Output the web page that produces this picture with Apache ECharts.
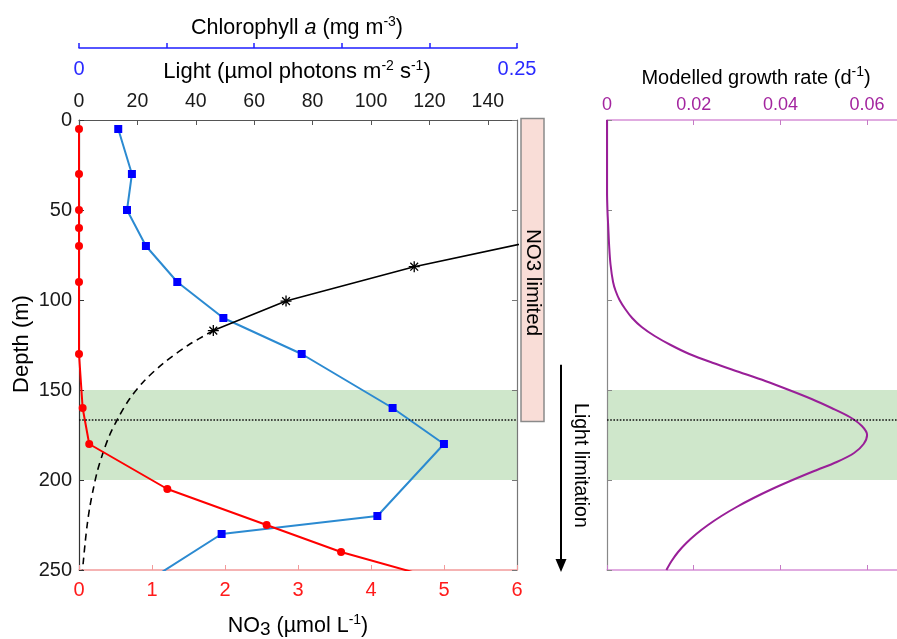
<!DOCTYPE html>
<html>
<head>
<meta charset="utf-8">
<script src="https://cdn.jsdelivr.net/npm/echarts@6/dist/echarts.min.js"></script>
<style>html,body{margin:0;padding:0;background:#fff;}#main{width:897px;height:639px;}</style>
</head>
<body>
<div id="main"></div>
<script>
// ---- Data ----
// NO3 (µmol L-1) profile
const no3Depth = [5, 30, 50, 60, 70, 90, 130, 160, 180, 205, 225, 240, 260];
const no3Value = [0, 0, 0, 0, 0, 0, 0, 0.05, 0.14, 1.21, 2.57, 3.59, 5.35];
// Chlorophyll a (mg m-3) profile
const chlDepth = [5, 30, 50, 70, 90, 110, 130, 160, 180, 220, 230, 260];
const chlValue = [0.0224, 0.0302, 0.0274, 0.0382, 0.0561, 0.0824, 0.1271, 0.179, 0.2083, 0.1703, 0.0814, 0.033];
// Light (µmol photons m-2 s-1), measured part
const lightDepth = [60, 81.5, 100.6, 117];
const lightValue = [177, 114.8, 70.9, 46.0];
const lightStars = [false, true, true, true];
// Light, extrapolated (dashed)
const lightExtDepth = [117, 125, 135, 145, 155, 165, 175, 185, 195, 205, 215, 225, 235, 245, 250];
const lightExtValue = [46, 37.5, 29, 22.3, 17.3, 13.6, 10.5, 8.2, 6.3, 4.9, 3.7, 2.8, 2.1, 1.5, 1.2];
// Modelled growth rate (d-1)
const growthDepth = [0, 40, 50, 60, 70, 80, 90, 95, 100, 105, 110, 115, 120, 125, 130, 135, 140, 145, 150, 155, 160, 165, 170, 175, 180, 185, 190, 195, 200, 205, 210, 215, 220, 225, 230, 235, 240, 245, 250];
const growthValue = [0, 0, 0.0001, 0.0003, 0.0005, 0.0008, 0.0014, 0.0020, 0.0029, 0.0042, 0.0058, 0.0080, 0.0110, 0.0147, 0.0190, 0.0245, 0.0305, 0.0365, 0.0420, 0.0472, 0.0518, 0.0560, 0.0588, 0.0600, 0.0592, 0.0570, 0.0530, 0.0478, 0.0428, 0.0381, 0.0338, 0.0299, 0.0264, 0.0233, 0.0206, 0.0183, 0.0164, 0.0149, 0.0137];
// Annotations
const bandDepth = [150, 200];
const dottedDepth = 166.3;
const no3LimitedDepth = [0, 167.5];
const no3LabelDepth = 90.3;
const lightLimitDepth = [136, 250];
const depthTicks = {min: 0, max: 250, interval: 50};

// ---- Chart ----
const FF = "'Liberation Sans', Arial, Helvetica, sans-serif";
const chart = echarts.init(document.getElementById('main'));

const zip = (xs, ys) => xs.map((x, i) => [x, ys[i]]);
const STAR = 'path://M-0.6,-5L0.6,-5L0.6,5L-0.6,5Z M-5,-0.6L5,-0.6L5,0.6L-5,0.6Z M3.12,3.96L-3.96,-3.12L-3.12,-3.96L3.96,3.12Z M3.96,-3.12L-3.12,3.96L-3.96,3.12L3.12,-3.96Z';

function yAx(grid, pos, color, labels) {
  return {
    gridIndex: grid, type: 'value', inverse: true, position: pos,
    min: depthTicks.min, max: depthTicks.max, interval: depthTicks.interval, z: 1.5,
    axisLine: {onZero: false, lineStyle: {color: color, width: 1.2}},
    axisTick: {inside: true, length: 5, lineStyle: {color: color}},
    axisLabel: {show: labels, color: '#1a1a1a', fontSize: 20, margin: 7, fontFamily: FF},
    splitLine: {show: false}
  };
}

const bandArea = {
  silent: true,
  itemStyle: {color: '#cfe7cb'},
  data: [[{yAxis: bandDepth[0]}, {yAxis: bandDepth[1]}]]
};
const dotted = {
  silent: true, symbol: ['none', 'none'], label: {show: false},
  lineStyle: {type: 'dotted', color: '#111', width: 1.6},
  emphasis: {disabled: true},
  data: [{yAxis: dottedDepth}]
};

const option = {
  animation: false,
  backgroundColor: '#fff',
  grid: [
    {left: 79, top: 120, width: 438, height: 450},
    {left: 607, top: 120, width: 290, height: 450}
  ],
  xAxis: [
    { // NO3
      gridIndex: 0, type: 'value', position: 'bottom', min: 0, max: 6, interval: 1, z: 1.5,
      axisLine: {onZero: false, lineStyle: {color: '#f29a9a', width: 1.5}},
      axisTick: {inside: true, length: 5, lineStyle: {color: '#f29a9a'}},
      axisLabel: {color: '#ff1a1a', fontSize: 20, margin: 10, fontFamily: FF},
      splitLine: {show: false}
    },
    { // Light
      gridIndex: 0, type: 'value', position: 'top', min: 0, max: 150, interval: 20, z: 1.5,
      axisLine: {onZero: false, lineStyle: {color: '#555', width: 1.2}},
      axisTick: {inside: true, length: 5, lineStyle: {color: '#555'}},
      axisLabel: {color: '#1a1a1a', fontSize: 19.5, margin: 8, fontFamily: FF, showMaxLabel: false,
        formatter: v => (v >= 149.9 ? '' : String(v))},
      splitLine: {show: false}
    },
    { // Chlorophyll
      gridIndex: 0, type: 'value', position: 'top', offset: 72, min: 0, max: 0.25, interval: 0.05, z: 1.5,
      axisLine: {onZero: false, lineStyle: {color: '#1f1fff', width: 1.5}},
      axisTick: {inside: false, length: 5, lineStyle: {color: '#1f1fff', width: 1.5}},
      axisLabel: {inside: true, color: '#2a2aff', fontSize: 20, margin: 11, fontFamily: FF,
        formatter: v => (Math.abs(v) < 1e-9 ? '0' : (Math.abs(v - 0.25) < 1e-6 ? '0.25' : ''))},
      splitLine: {show: false}
    },
    { // Growth top
      gridIndex: 1, type: 'value', position: 'top', min: 0, max: 0.0669, interval: 0.02, z: 1.5,
      axisLine: {onZero: false, lineStyle: {color: '#d690d6', width: 1.5}},
      axisTick: {inside: true, length: 5, lineStyle: {color: '#c57ac5'}},
      axisLabel: {color: '#a3249f', fontSize: 18, margin: 6, fontFamily: FF, showMaxLabel: false,
        formatter: v => (Math.abs(v) < 1e-9 ? '0' : (v > 0.065 ? '' : v.toFixed(2)))},
      splitLine: {show: false}
    },
    { // Growth bottom
      gridIndex: 1, type: 'value', position: 'bottom', min: 0, max: 0.0669, interval: 0.02, z: 1.5,
      axisLine: {onZero: false, lineStyle: {color: '#d690d6', width: 1.5}},
      axisTick: {inside: true, length: 5, lineStyle: {color: '#c57ac5'}},
      axisLabel: {show: false},
      splitLine: {show: false}
    }
  ],
  yAxis: [
    yAx(0, 'left', '#333', true),
    yAx(0, 'right', '#777', false),
    yAx(1, 'left', '#888', false)
  ],
  series: [
    {
      name: 'NO3', type: 'line', xAxisIndex: 0, yAxisIndex: 0, z: 4, clip: true,
      data: zip(no3Value, no3Depth),
      symbol: 'circle', symbolSize: 8,
      itemStyle: {color: '#ff0000'},
      lineStyle: {color: '#ff0000', width: 2},
      markArea: bandArea,
      markLine: dotted
    },
    {
      name: 'Chl', type: 'line', xAxisIndex: 2, yAxisIndex: 0, z: 3, clip: true,
      data: zip(chlValue, chlDepth),
      symbol: 'rect', symbolSize: 8,
      itemStyle: {color: '#0000ff'},
      lineStyle: {color: '#2b8ad1', width: 2}
    },
    {
      name: 'Light', type: 'line', xAxisIndex: 1, yAxisIndex: 0, z: 3, clip: true,
      data: lightValue.map((v, i) => ({value: [v, lightDepth[i]], symbol: lightStars[i] ? STAR : 'none'})),
      symbolSize: 11,
      itemStyle: {color: '#000'},
      lineStyle: {color: '#000', width: 1.6}
    },
    {
      name: 'LightExt', type: 'line', xAxisIndex: 1, yAxisIndex: 0, z: 3, clip: true,
      data: zip(lightExtValue, lightExtDepth),
      symbol: 'none', smooth: 0.3,
      lineStyle: {color: '#000', width: 1.6, type: [7, 5]}
    },
    {
      name: 'Growth', type: 'line', xAxisIndex: 3, yAxisIndex: 2, z: 3, clip: true,
      data: zip(growthValue, growthDepth),
      symbol: 'none', smooth: 0.3,
      lineStyle: {color: '#991f98', width: 2},
      markArea: bandArea,
      markLine: dotted
    }
  ]
};
chart.setOption(option);

// ---- Annotations and titles ----
const py = d => chart.convertToPixel({yAxisIndex: 0}, d);
const txt = (x, y, text, rich, rot, extra) => ({
  type: 'text', x: x, y: y, rotation: rot || 0, z: 100, silent: true,
  style: Object.assign({
    text: text, rich: rich,
    align: 'center', verticalAlign: 'middle', textAlign: 'center', textVerticalAlign: 'middle',
    fontFamily: FF
  }, extra || {})
});
function richSet(color, size) {
  return {
    n: {fontSize: size, fontFamily: FF, color: color, lineHeight: 26},
    i: {fontSize: size, fontFamily: FF, color: color, fontStyle: 'italic', lineHeight: 26},
    s: {fontSize: 14, fontFamily: FF, color: color, verticalAlign: 'top', lineHeight: 16},
    b: {fontSize: 19, fontFamily: FF, color: color, verticalAlign: 'bottom', lineHeight: 20}
  };
}
const rTop = py(no3LimitedDepth[0]) - 1.5;
const rBot = py(no3LimitedDepth[1]);
const aTop = py(lightLimitDepth[0]);
const aBot = py(lightLimitDepth[1]) + 2;

chart.setOption({
  graphic: [
    txt(297, 28, '{n|Chlorophyll }{i|a}{n| (mg m}{s|-3}{n|)}', richSet('#2020ff', 21.5)),
    txt(297, 72, '{n|Light (µmol photons m}{s|-2}{n| s}{s|-1}{n|)}', richSet('#1a1a1a', 22)),
    txt(298, 626, '{n|NO}{b|3}{n| (µmol L}{s|-1}{n|)}', richSet('#ff1a1a', 21.5)),
    txt(22, 344, '{n|Depth (m)}', richSet('#1a1a1a', 22), Math.PI / 2),
    txt(756, 78, '{n|Modelled growth rate (d}{s|-1}{n|)}', richSet('#a3249f', 20)),
    {
      type: 'rect', z: 90, silent: true,
      shape: {x: 521, y: rTop, width: 23, height: rBot - rTop},
      style: {fill: '#f9ddd7', stroke: '#8a8a8a', lineWidth: 1.5}
    },
    txt(533, py(no3LabelDepth), '{n|NO3 limited}', richSet('#1a1a1a', 20.5), -Math.PI / 2),
    {
      type: 'line', z: 90, silent: true,
      shape: {x1: 561, y1: aTop, x2: 561, y2: aBot - 10},
      style: {stroke: '#000', lineWidth: 2}
    },
    {
      type: 'polygon', z: 90, silent: true,
      shape: {points: [[555.5, aBot - 13], [566.5, aBot - 13], [561, aBot]]},
      style: {fill: '#000'}
    },
    txt(580, (aTop + aBot) / 2 - 3, '{n|Light limitation}', richSet('#1a1a1a', 19.5), -Math.PI / 2)
  ]
});
</script>
</body>
</html>
